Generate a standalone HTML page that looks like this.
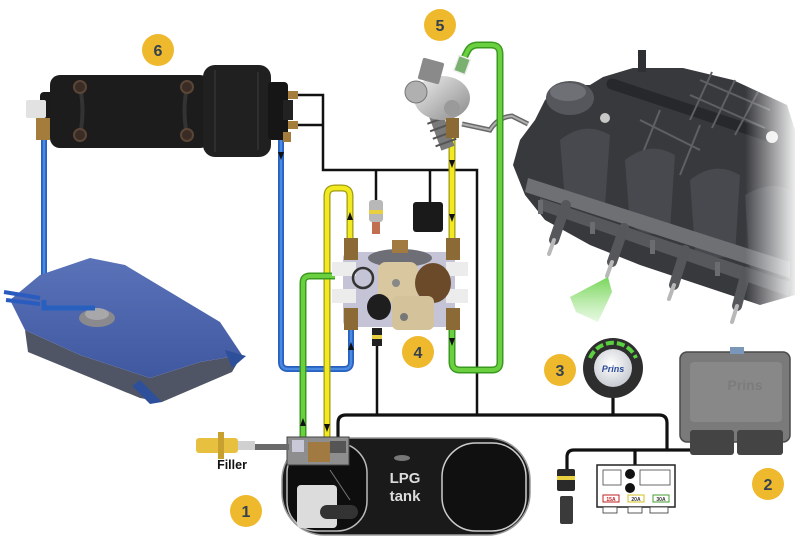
<!DOCTYPE html>
<html><head><meta charset="utf-8"><style>
html,body{margin:0;padding:0;background:#fff;}
svg{display:block;}
text{font-family:"Liberation Sans",sans-serif;}
</style></head><body>
<svg width="800" height="545" viewBox="0 0 800 545" xmlns="http://www.w3.org/2000/svg">
<defs>
<linearGradient id="fade" x1="0" x2="1" y1="0" y2="0"><stop offset="0" stop-color="#fff" stop-opacity="0"/><stop offset="1" stop-color="#fff" stop-opacity="1"/></linearGradient>
<linearGradient id="tankg" x1="0" x2="0" y1="0" y2="1"><stop offset="0" stop-color="#5a72b8"/><stop offset="1" stop-color="#3f58a0"/></linearGradient>
<radialGradient id="sw" cx="0.45" cy="0.4" r="0.6"><stop offset="0" stop-color="#ffffff"/><stop offset="1" stop-color="#c8ccd2"/></radialGradient>
<linearGradient id="spray" x1="0" y1="0" x2="0" y2="1"><stop offset="0" stop-color="#6ad048" stop-opacity="0.9"/><stop offset="1" stop-color="#8ae070" stop-opacity="0.2"/></linearGradient>
<linearGradient id="pumpg" x1="0" y1="0" x2="1" y2="1"><stop offset="0" stop-color="#f0f0f0"/><stop offset="1" stop-color="#8a8a8a"/></linearGradient>
</defs>

<!-- ENGINE -->
<polygon points="513,165 520,140 535,120 545,100 560,85 590,85 603,77 633,68 683,68 733,80 787,105 795,130 795,295 760,305 700,285 640,265 590,245 545,220 525,195" fill="#38393d"/>
<ellipse cx="570" cy="98" rx="24" ry="17" fill="#55575c"/>
<ellipse cx="568" cy="92" rx="18" ry="9" fill="#6e7075"/>
<rect x="638" y="50" width="8" height="22" fill="#2e3034"/>
<line x1="612" y1="84" x2="772" y2="137" stroke="#26282b" stroke-width="11" stroke-linecap="round"/>
<circle cx="772" cy="137" r="6" fill="#e8e8e8"/>
<circle cx="605" cy="118" r="5" fill="#c8c8c8"/>
<g stroke="#5e6064" stroke-width="2" fill="none">
<path d="M700,80 L770,110 M690,95 L765,128 M712,72 L690,120 M735,80 L712,128 M758,92 L735,135"/>
<path d="M640,120 L700,150 M660,110 L640,160 M700,125 L680,175"/>
</g>
<g fill="#47494e">
<path d="M560,140 Q585,120 610,135 L605,205 Q585,215 565,200 Z"/>
<path d="M625,160 Q650,140 675,155 L670,230 Q650,240 630,225 Z"/>
<path d="M690,180 Q715,160 740,175 L735,255 Q715,262 695,250 Z"/>
<path d="M745,195 Q770,180 790,190 L790,275 Q770,282 750,270 Z"/>
</g>
<polygon points="528,178 790,262 790,278 525,192" fill="#6e7074"/>
<polygon points="540,198 790,282 788,296 540,210" fill="#56585c"/>
<g fill="#6a6c70">
<rect x="538" y="200" width="5" height="14"/><rect x="590" y="222" width="5" height="12"/><rect x="650" y="240" width="5" height="14"/><rect x="715" y="262" width="5" height="14"/>
</g>
<g stroke-linecap="round">
<line x1="566" y1="205" x2="554" y2="240" stroke="#55575b" stroke-width="10"/>
<line x1="554" y1="240" x2="549" y2="254" stroke="#b8b8b8" stroke-width="4"/>
<line x1="624" y1="228" x2="612" y2="262" stroke="#55575b" stroke-width="10"/>
<line x1="612" y1="262" x2="607" y2="276" stroke="#b8b8b8" stroke-width="4"/>
<line x1="685" y1="250" x2="674" y2="285" stroke="#55575b" stroke-width="10"/>
<line x1="674" y1="285" x2="669" y2="299" stroke="#b8b8b8" stroke-width="4"/>
<line x1="746" y1="272" x2="737" y2="306" stroke="#55575b" stroke-width="10"/>
<line x1="737" y1="306" x2="732" y2="322" stroke="#b8b8b8" stroke-width="4"/>
</g>
<rect x="745" y="60" width="55" height="280" fill="url(#fade)"/>
<polygon points="608,277 570,297 576,312 598,322 612,292" fill="url(#spray)"/>

<path d="M462,124 L490,130 Q498,117 512,116 L528,124" stroke="#6a6a6a" stroke-width="5" fill="none"/>
<path d="M462,124 L490,130 Q498,117 512,116 L528,124" stroke="#b0b0b0" stroke-width="2" fill="none"/>

<!-- BLACK WIRES -->
<g stroke="#111" stroke-width="2.5" fill="none">
<path d="M292,95 H323 V170 H477 V415"/>
<path d="M292,125 H323"/>
<path d="M376,170 V200"/>
<path d="M430,170 V202"/>
<path d="M377,415 V345"/>
</g>
<g stroke="#111" stroke-width="3.2" fill="none">
<path d="M338,440 V423 Q338,415 346,415 H659 Q667,415 667,423 V450"/>
<path d="M613,398 V415"/>
<path d="M567,470 V457 Q567,450 574,450 H697"/>
<path d="M635,450 V466"/>
</g>

<!-- BLUE PIPES -->
<g fill="none" stroke-linejoin="round">
<path d="M44,140 V307 H95" stroke="#2860c0" stroke-width="6"/>
<path d="M44,140 V307 H95" stroke="#4a8ae0" stroke-width="2.5"/>
<path d="M281,140 V362 Q281,369 288,369 H344 Q351,369 351,362 V328" stroke="#2860c0" stroke-width="6"/>
<path d="M281,140 V362 Q281,369 288,369 H344 Q351,369 351,362 V328" stroke="#4a8ae0" stroke-width="2.5"/>
</g>

<!-- GASOLINE TANK -->
<polygon points="25,330 80,355 150,378 200,362 242,355 232,372 162,402 140,398 28,352" fill="#505566"/>
<polygon points="10,300 40,275 90,258 125,265 220,322 242,355 200,362 150,378 80,355 25,330" fill="url(#tankg)"/>
<polygon points="140,380 162,402 150,404 132,386" fill="#2e4f9a"/>
<polygon points="225,350 246,356 232,368" fill="#2e4f9a"/>
<ellipse cx="97" cy="318" rx="18" ry="9" fill="#8a8a8e"/>
<ellipse cx="97" cy="314" rx="12" ry="6" fill="#a8a8aa"/>
<path d="M4,292 L40,298 M6,300 L40,304" stroke="#2a5cc0" stroke-width="4"/>
<path d="M44,300 V308 H95" stroke="#2860c0" stroke-width="5" fill="none"/>

<!-- YELLOW PIPES -->
<g fill="none">
<path d="M327,437 V196 Q327,188 335,188 H342 Q350,188 350,196 V238" stroke="#a09a10" stroke-width="7"/>
<path d="M327,437 V196 Q327,188 335,188 H342 Q350,188 350,196 V238" stroke="#f2ea20" stroke-width="4.5"/>
<path d="M452,120 V238" stroke="#a09a10" stroke-width="7"/>
<path d="M452,120 V238" stroke="#f2ea20" stroke-width="4.5"/>
</g>
<!-- GREEN PIPES -->
<g fill="none" stroke-linejoin="round">
<path d="M303,437 V283 Q303,276 310,276 H335" stroke="#3a9a20" stroke-width="7"/>
<path d="M303,437 V283 Q303,276 310,276 H335" stroke="#6ad040" stroke-width="4"/>
<path d="M452,327 V362 Q452,370 460,370 H492 Q500,370 500,362 V54 Q500,45 491,45 H478 Q470,45 467,52 L462,62" stroke="#3a9a20" stroke-width="7"/>
<path d="M452,327 V362 Q452,370 460,370 H492 Q500,370 500,362 V54 Q500,45 491,45 H478 Q470,45 467,52 L462,62" stroke="#6ad040" stroke-width="4"/>
</g>
<!-- flow arrows -->
<g fill="#111">
<polygon points="350,212 347,220 353,220"/>
<polygon points="452,168 449,160 455,160"/>
<polygon points="452,222 449,214 455,214"/>
<polygon points="303,418 300,426 306,426"/>
<polygon points="327,432 324,424 330,424"/>
<polygon points="452,346 449,338 455,338"/>
<polygon points="281,160 278,152 284,152"/>
<polygon points="351,342 348,350 354,350"/>
</g>

<!-- FILTER 6 -->
<rect x="40" y="92" width="16" height="46" rx="4" fill="#1a1a1a"/>
<rect x="50" y="75" width="160" height="73" rx="10" fill="#1c1c1c"/>
<path d="M80,87 Q85,111 80,135 M187,87 Q182,111 187,135" stroke="#333" stroke-width="4" fill="none"/>
<rect x="203" y="65" width="68" height="92" rx="12" fill="#202020"/>
<path d="M215,70 V152 M258,72 V150" stroke="#2e2e2e" stroke-width="2"/>
<rect x="268" y="82" width="20" height="58" rx="4" fill="#161616"/>
<rect x="283" y="100" width="10" height="20" fill="#222"/>
<g fill="#3a2c24" stroke="#5a4636" stroke-width="2">
<circle cx="80" cy="87" r="6"/><circle cx="187" cy="87" r="6"/><circle cx="80" cy="135" r="6"/><circle cx="187" cy="135" r="6"/>
</g>
<rect x="26" y="100" width="20" height="18" rx="2" fill="#e2e2e2"/>
<rect x="36" y="118" width="14" height="22" fill="#a47c3c"/>
<rect x="288" y="91" width="10" height="8" fill="#a47c3c"/>
<rect x="288" y="121" width="10" height="8" fill="#a47c3c"/>
<rect x="283" y="132" width="8" height="10" fill="#a47c3c"/>

<!-- FUEL PUMP 5 -->
<g transform="rotate(-20 440 100)">
<rect x="424" y="112" width="14" height="36" fill="#7a7a7a"/>
<g stroke="#555" stroke-width="2"><line x1="420" y1="118" x2="442" y2="118"/><line x1="420" y1="126" x2="442" y2="126"/><line x1="420" y1="134" x2="442" y2="134"/><line x1="420" y1="142" x2="442" y2="142"/></g>
</g>
<ellipse cx="442" cy="98" rx="28" ry="22" fill="url(#pumpg)"/>
<circle cx="416" cy="92" r="11" fill="#b0b0b0" stroke="#777"/>
<rect x="420" y="60" width="22" height="22" rx="2" fill="#8a8a8a" transform="rotate(15 431 71)"/>
<circle cx="452" cy="108" r="8" fill="#9a9a9a"/>
<rect x="456" y="57" width="12" height="16" fill="#7ab070" stroke="#eee" stroke-width="1.5" transform="rotate(20 462 65)"/>
<rect x="446" y="118" width="13" height="20" fill="#8b6a35"/>

<!-- VAPORIZER 4 -->
<rect x="343" y="252" width="112" height="75" rx="6" fill="#c4c4d6"/>
<ellipse cx="400" cy="258" rx="32" ry="9" fill="#6e6e76"/>
<rect x="392" y="240" width="16" height="13" fill="#a07a40"/>
<rect x="332" y="262" width="24" height="14" fill="#ececec"/>
<rect x="332" y="289" width="24" height="14" fill="#ececec"/>
<rect x="446" y="262" width="22" height="14" fill="#ececec"/>
<rect x="446" y="289" width="22" height="14" fill="#ececec"/>
<rect x="344" y="238" width="14" height="22" fill="#8b6a35"/>
<rect x="344" y="308" width="14" height="22" fill="#8b6a35"/>
<rect x="446" y="238" width="14" height="22" fill="#8b6a35"/>
<rect x="446" y="308" width="14" height="22" fill="#8b6a35"/>
<circle cx="363" cy="278" r="10" fill="none" stroke="#333" stroke-width="2.5"/>
<rect x="378" y="262" width="40" height="40" rx="8" fill="#d9c7a0"/>
<circle cx="396" cy="283" r="4" fill="#888"/>
<ellipse cx="433" cy="283" rx="18" ry="20" fill="#6b4a2a"/>
<ellipse cx="379" cy="307" rx="12" ry="13" fill="#1e1e1e"/>
<rect x="392" y="296" width="42" height="34" rx="6" fill="#d4c29a"/>
<circle cx="404" cy="317" r="4" fill="#777"/>
<rect x="369" y="200" width="14" height="22" rx="3" fill="#b8b8b8"/>
<rect x="369" y="210" width="14" height="4" fill="#e8d040"/>
<rect x="372" y="222" width="8" height="12" fill="#c07050"/>
<rect x="413" y="202" width="30" height="30" rx="3" fill="#1a1a1a"/>
<rect x="372" y="328" width="10" height="18" fill="#222"/>
<rect x="372" y="335" width="10" height="4" fill="#e8d040"/>

<!-- LPG TANK -->
<rect x="282" y="438" width="248" height="97" rx="42" fill="#1a1a1a" stroke="#999" stroke-width="1.5"/>
<rect x="287" y="443" width="80" height="88" rx="30" fill="#0e0e0e" stroke="#bbb" stroke-width="1.5"/>
<rect x="442" y="443" width="84" height="88" rx="34" fill="#101010" stroke="#ccc" stroke-width="1.5"/>
<ellipse cx="402" cy="458" rx="8" ry="3" fill="#777"/>
<text x="405" y="483" font-size="15" font-weight="bold" fill="#dcdcdc" text-anchor="middle">LPG</text>
<text x="405" y="501" font-size="15" font-weight="bold" fill="#dcdcdc" text-anchor="middle">tank</text>
<rect x="297" y="485" width="40" height="43" rx="4" fill="#dcdcdc"/>
<rect x="320" y="505" width="38" height="14" rx="7" fill="#333"/>
<line x1="330" y1="470" x2="350" y2="500" stroke="#777" stroke-width="1"/>
<rect x="287" y="437" width="62" height="28" fill="#8e8e8e" stroke="#444"/>
<rect x="292" y="440" width="12" height="12" fill="#c8c8d8"/>
<rect x="308" y="442" width="22" height="20" fill="#a07a40"/>
<rect x="330" y="441" width="16" height="12" fill="#555"/>
<rect x="255" y="444" width="34" height="6" fill="#6a6a6a"/>
<rect x="196" y="438" width="42" height="15" rx="3" fill="#e8c040"/>
<rect x="218" y="432" width="6" height="27" fill="#c8a030"/>
<rect x="238" y="441" width="17" height="9" fill="#d0d0d0"/>
<text x="232" y="469" font-size="12.5" font-weight="bold" fill="#111" text-anchor="middle">Filler</text>

<!-- SWITCH 3 -->
<circle cx="613" cy="368" r="30" fill="#2e2e2e"/>
<path d="M590,358 A25,25 0 0 1 636,358" stroke="#5ad040" stroke-width="4" fill="none" stroke-dasharray="8 3"/>
<circle cx="613" cy="368" r="19" fill="url(#sw)"/>
<text x="613" y="372" font-size="9" font-weight="bold" font-style="italic" fill="#2a4a9a" text-anchor="middle">Prins</text>

<!-- ECU 2 -->
<rect x="680" y="352" width="110" height="90" rx="7" fill="#7a7a7a" stroke="#4a4a4a" stroke-width="1.5"/>
<rect x="730" y="347" width="14" height="7" fill="#7a96b8"/>
<rect x="690" y="362" width="92" height="60" rx="4" fill="#888"/>
<text x="745" y="390" font-size="14" font-weight="bold" fill="#7c7c7c" text-anchor="middle">Prins</text>
<rect x="690" y="430" width="44" height="25" rx="3" fill="#444"/>
<rect x="737" y="430" width="46" height="25" rx="3" fill="#444"/>

<!-- FUSE BOX -->
<rect x="597" y="465" width="78" height="42" fill="#fff" stroke="#222" stroke-width="1.5"/>
<rect x="603" y="470" width="18" height="15" fill="#fff" stroke="#444" stroke-width="0.8"/>
<rect x="640" y="470" width="30" height="15" fill="#fff" stroke="#444" stroke-width="0.8"/>
<circle cx="630" cy="474" r="5" fill="#111"/>
<circle cx="630" cy="488" r="5" fill="#111"/>
<rect x="603" y="495" width="16" height="7" fill="#fff" stroke="#c02020"/>
<rect x="628" y="495" width="16" height="7" fill="#fff" stroke="#d0c020"/>
<rect x="653" y="495" width="16" height="7" fill="#fff" stroke="#40a030"/>
<text x="611" y="501" font-size="5" font-weight="bold" fill="#c02020" text-anchor="middle">15A</text>
<text x="636" y="501" font-size="5" font-weight="bold" fill="#333" text-anchor="middle">20A</text>
<text x="661" y="501" font-size="5" font-weight="bold" fill="#333" text-anchor="middle">30A</text>
<rect x="603" y="507" width="14" height="6" fill="#fff" stroke="#333" stroke-width="0.8"/>
<rect x="628" y="507" width="14" height="6" fill="#fff" stroke="#333" stroke-width="0.8"/>
<rect x="650" y="507" width="18" height="6" fill="#fff" stroke="#333" stroke-width="0.8"/>
<rect x="557" y="469" width="18" height="22" rx="2" fill="#2a2a2a"/>
<rect x="557" y="476" width="18" height="4" fill="#e8d040"/>
<rect x="560" y="496" width="13" height="28" rx="2" fill="#3a3a3a"/>

<!-- BADGES -->
<g font-size="16" font-weight="bold" fill="#34414e" text-anchor="middle">
<circle cx="158" cy="50" r="16" fill="#efb92d"/><text x="158" y="56">6</text>
<circle cx="440" cy="25" r="16" fill="#efb92d"/><text x="440" y="31">5</text>
<circle cx="418" cy="352" r="16" fill="#efb92d"/><text x="418" y="358">4</text>
<circle cx="560" cy="370" r="16" fill="#efb92d"/><text x="560" y="376">3</text>
<circle cx="768" cy="484" r="16" fill="#efb92d"/><text x="768" y="490">2</text>
<circle cx="246" cy="511" r="16" fill="#efb92d"/><text x="246" y="517">1</text>
</g>
</svg>
</body></html>
